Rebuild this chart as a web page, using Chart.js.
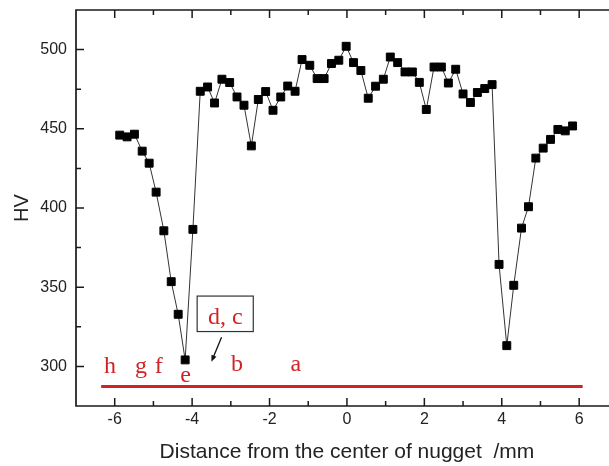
<!DOCTYPE html>
<html>
<head>
<meta charset="utf-8">
<script src="https://cdn.jsdelivr.net/npm/chart.js@4.4.0/dist/chart.umd.min.js"></script>
<style>
    html, body { margin: 0; padding: 0; background: #fff; overflow: hidden; }
    #wrap { width: 609px; height: 466px; }
</style>
</head>
<body>
<div id="wrap"><canvas id="hvChart" width="609" height="466"></canvas></div>
<script>
// Hardness profile across the weld
const distance = [
    -5.87, -5.68, -5.49, -5.29, -5.11, -4.93, -4.73, -4.54, -4.36, -4.18,
    -3.98, -3.79, -3.60, -3.42, -3.23, -3.03, -2.84, -2.66, -2.47, -2.29,
    -2.10, -1.91, -1.71, -1.53, -1.34, -1.16, -0.96, -0.77, -0.59, -0.40,
    -0.21, -0.02, 0.17, 0.36, 0.55, 0.74, 0.94, 1.12, 1.31, 1.50,
    1.69, 1.87, 2.05, 2.25, 2.44, 2.62, 2.81, 3.00, 3.19, 3.37,
    3.56, 3.75, 3.93, 4.13, 4.31, 4.51, 4.69, 4.88, 5.07, 5.26,
    5.45, 5.64, 5.83
];
const hardness = [
    446.0, 444.9, 446.6, 435.9, 428.3, 410.0, 385.6, 353.5, 332.9, 304.1,
    386.5, 473.7, 476.4, 466.3, 481.3, 479.2, 470.1, 464.9, 439.2, 468.5,
    473.5, 461.7, 470.1, 477.0, 473.7, 493.7, 490.1, 481.7, 481.7, 491.2,
    493.3, 502.1, 491.8, 486.8, 469.3, 476.9, 481.3, 495.3, 491.8, 485.9,
    485.9, 479.3, 462.2, 489.0, 489.0, 478.9, 487.6, 472.0, 466.6, 472.9,
    475.4, 477.9, 364.4, 313.1, 351.2, 387.3, 400.8, 431.5, 437.8, 443.3,
    449.6, 448.7, 451.8
];

// red reference line under the profile
const refLineX = [-6.35, 6.09];
const refLineY = [287.3, 287.3];

const xTicks = [-6, -4, -2, 0, 2, 4, 6];
const xMinorTicks = [-5, -3, -1, 1, 3, 5];
const yTicks = [300, 350, 400, 450, 500];
const yMinorTicks = [325, 375, 425, 475];

const zoneLetters = ['h', 'g', 'f', 'e', 'b', 'a'];

// where the zone letters sit (data coords)
const letterSpots = [
    { x: -6.12, y: 296 }, { x: -5.32, y: 296 }, { x: -4.86, y: 296 },
    { x: -4.17, y: 290.3 }, { x: -2.84, y: 297.2 }, { x: -1.32, y: 297.2 }
];

const RED = '#cf2326';
const AXIS = '#1a1a1a';

const framePlugin = {
    id: 'frame',
    afterDatasetsDraw(chart) {
        const ctx = chart.ctx;
        const xs = chart.scales.x, ys = chart.scales.y;
        const a = chart.chartArea;

        ctx.save();
        // zone letters
        ctx.fillStyle = RED;
        ctx.font = '24px "Liberation Serif", "Times New Roman", serif';
        ctx.textAlign = 'center';
        ctx.textBaseline = 'alphabetic';
        zoneLetters.forEach((t, i) => {
            ctx.fillText(t, xs.getPixelForValue(letterSpots[i].x), ys.getPixelForValue(letterSpots[i].y));
        });

        // boxed "d, c" label
        const bx1 = xs.getPixelForValue(-3.87), bx2 = xs.getPixelForValue(-2.42);
        const by1 = ys.getPixelForValue(344.4), by2 = ys.getPixelForValue(322.0);
        ctx.strokeStyle = '#333';
        ctx.lineWidth = 1.2;
        ctx.strokeRect(bx1, by1, bx2 - bx1, by2 - by1);
        ctx.fillText('d, c', (bx1 + bx2) / 2, ys.getPixelForValue(326.6));

        // arrow
        const ax1 = xs.getPixelForValue(-3.24), ay1 = ys.getPixelForValue(318.4);
        const ax2 = xs.getPixelForValue(-3.50), ay2 = ys.getPixelForValue(303.0);
        const ang = Math.atan2(ay2 - ay1, ax2 - ax1);
        ctx.strokeStyle = '#111';
        ctx.fillStyle = '#111';
        ctx.lineWidth = 1.3;
        ctx.beginPath();
        ctx.moveTo(ax1, ay1);
        ctx.lineTo(ax2 - 4 * Math.cos(ang), ay2 - 4 * Math.sin(ang));
        ctx.stroke();
        ctx.beginPath();
        ctx.moveTo(ax2, ay2);
        ctx.lineTo(ax2 - 7 * Math.cos(ang - 0.4), ay2 - 7 * Math.sin(ang - 0.4));
        ctx.lineTo(ax2 - 7 * Math.cos(ang + 0.4), ay2 - 7 * Math.sin(ang + 0.4));
        ctx.closePath();
        ctx.fill();

        // frame: left, top, bottom (runs off the right edge like the original crop)
        ctx.strokeStyle = AXIS;
        ctx.lineWidth = 1.7;
        ctx.beginPath();
        ctx.moveTo(chart.width, a.top);
        ctx.lineTo(a.left, a.top);
        ctx.lineTo(a.left, a.bottom);
        ctx.lineTo(chart.width, a.bottom);
        ctx.stroke();

        // inward ticks
        ctx.lineWidth = 1.5;
        ctx.beginPath();
        xTicks.forEach(v => {
            const px = xs.getPixelForValue(v);
            ctx.moveTo(px, a.bottom); ctx.lineTo(px, a.bottom - 8);
            ctx.moveTo(px, a.top); ctx.lineTo(px, a.top + 8);
        });
        xMinorTicks.forEach(v => {
            const px = xs.getPixelForValue(v);
            ctx.moveTo(px, a.bottom); ctx.lineTo(px, a.bottom - 5);
            ctx.moveTo(px, a.top); ctx.lineTo(px, a.top + 5);
        });
        yTicks.forEach(v => {
            const py = ys.getPixelForValue(v);
            ctx.moveTo(a.left, py); ctx.lineTo(a.left + 8, py);
        });
        yMinorTicks.forEach(v => {
            const py = ys.getPixelForValue(v);
            ctx.moveTo(a.left, py); ctx.lineTo(a.left + 5, py);
        });
        ctx.stroke();

        // axis titles
        ctx.fillStyle = '#222';
        ctx.font = '21px "Liberation Sans", Arial, sans-serif';
        ctx.textAlign = 'center';
        ctx.textBaseline = 'middle';
        ctx.fillText('Distance from the center of nugget  /mm', xs.getPixelForValue(0), 452);
        ctx.font = '20px "Liberation Sans", Arial, sans-serif';
        ctx.translate(22, ys.getPixelForValue(400));
        ctx.rotate(-Math.PI / 2);
        ctx.fillText('HV', 0, 0);
        ctx.restore();
    }
};

const ctx = document.getElementById('hvChart').getContext('2d');
const hvChart = new Chart(ctx, {
    type: 'line',
    data: {
        datasets: [{
            label: 'HV',
            data: distance.map((d, i) => ({ x: d, y: hardness[i] })),
            borderColor: '#333',
            borderWidth: 1,
            pointStyle: 'rect',
            pointRadius: 5.6,
            pointBorderWidth: 1,
            pointBackgroundColor: '#000',
            pointBorderColor: '#000',
            tension: 0
        }, {
            label: 'ref',
            data: refLineX.map((d, i) => ({ x: d, y: refLineY[i] })),
            borderColor: RED,
            borderWidth: 3,
            pointRadius: 0
        }]
    },
    options: {
        responsive: false,
        animation: false,
        devicePixelRatio: 1,
        layout: { padding: { top: 10, right: 0, left: 0, bottom: 0 } },
        plugins: {
            legend: { display: false },
            tooltip: { enabled: false }
        },
        scales: {
            x: {
                type: 'linear',
                min: -7,
                max: 6.6,
                grid: { display: false, drawTicks: false },
                border: { display: false },
                afterFit: s => { s.height = 60; s.paddingLeft = 0; s.paddingRight = 0; },
                afterBuildTicks: s => { s.ticks = xTicks.map(v => ({ value: v })); },
                ticks: {
                    padding: 4,
                    color: '#222',
                    font: { family: '"Liberation Sans", Arial, sans-serif', size: 16 },
                    maxRotation: 0
                }
            },
            y: {
                min: 275,
                max: 525,
                grid: { display: false, drawTicks: false },
                border: { display: false },
                afterFit: s => { s.width = 76; s.paddingTop = 0; s.paddingBottom = 0; },
                afterBuildTicks: s => { s.ticks = yTicks.map(v => ({ value: v })); },
                ticks: {
                    padding: 9,
                    color: '#222',
                    font: { family: '"Liberation Sans", Arial, sans-serif', size: 16 }
                }
            }
        }
    },
    plugins: [framePlugin]
});
</script>
</body>
</html>
